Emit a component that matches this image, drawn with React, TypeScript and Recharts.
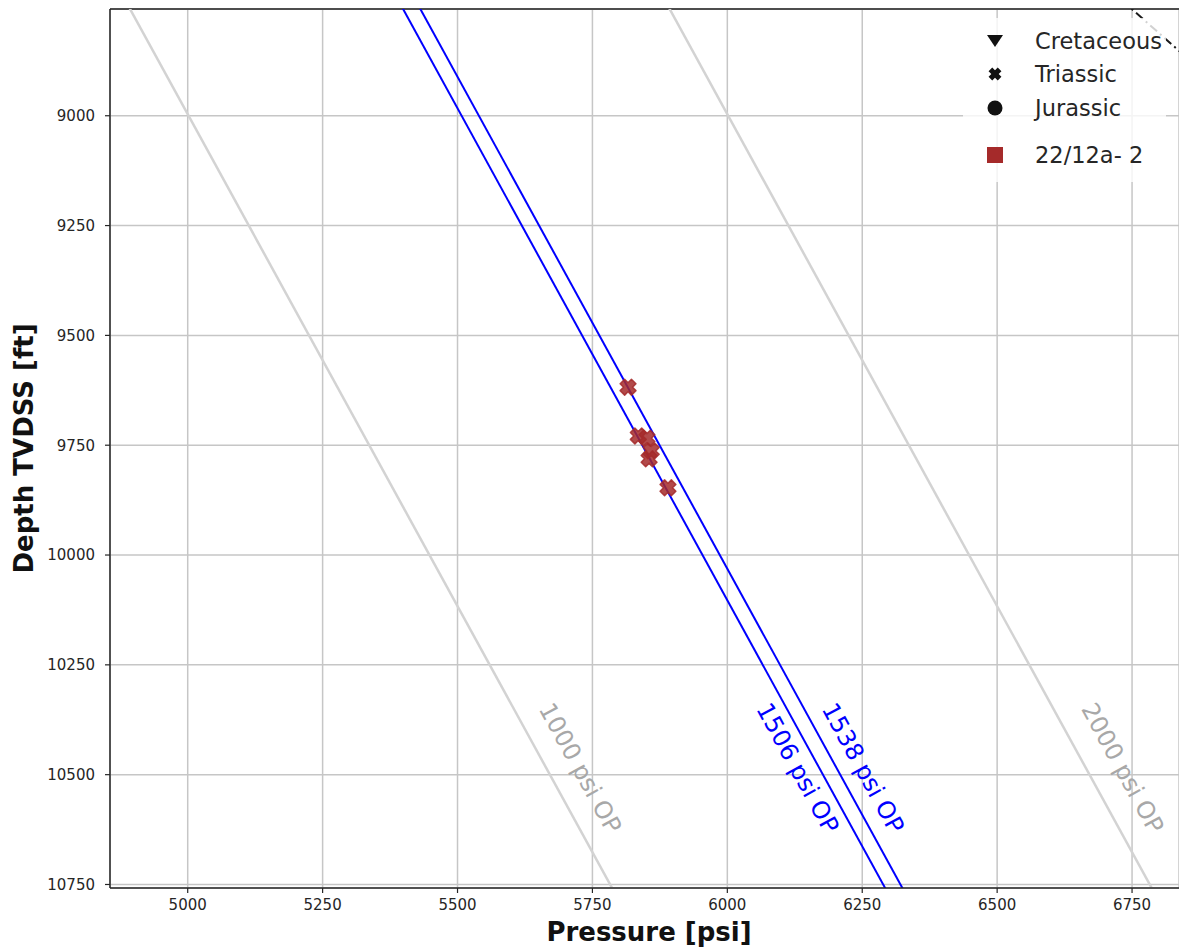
import {
  ScatterChart,
  Scatter,
  XAxis,
  YAxis,
  CartesianGrid,
  ReferenceLine,
  ReferenceDot,
  Legend,
  Label,
} from "recharts";

const FONT = "DejaVu Sans, sans-serif";

const CHART_W = 1179;
const CHART_H = 951;
const PLOT_LEFT = 110;
const PLOT_TOP = 9;
const PLOT_BOTTOM = 888;

const pressureDomain = [4856, 6837];
const depthDomain = [8757, 10758];
const pressureTicks = [5000, 5250, 5500, 5750, 6000, 6250, 6500, 6750];
const depthTicks = [9000, 9250, 9500, 9750, 10000, 10250, 10500, 10750];

// 22/12a-2 Triassic pressure points
const samplePressure = [5816, 5835, 5851, 5859, 5855, 5890];
const sampleDepth = [9618, 9729, 9734, 9763, 9781, 9847];

// hydrostatic trend, psi = gradient * depth + intercept
const HYDRO_GRADIENT = 0.4464;
const HYDRO_INTERCEPT = -16;

const overpressures = [1000, 1506, 1538, 2000];
const opLabels = ["1000 psi OP", "1506 psi OP", "1538 psi OP", "2000 psi OP"];
// label centres in data units (psi, ft)
const opLabelPressure = [5727, 6130, 6251, 6732];
const opLabelDepth = [10485, 10485, 10485, 10485];

// frac gradient line peeking in at the top right corner
const FRAC_GRADIENT = 0.92;
const FRAC_INTERCEPT = -1307;

const points = samplePressure.map((p, i) => ({ p, d: sampleDepth[i] }));

const hydro = (d: number) => HYDRO_GRADIENT * d + HYDRO_INTERCEPT;

const isRef = (op: number) => op === 1000 || op === 2000;
const opColor = (op: number) => (isRef(op) ? "#d3d3d3" : "#0000ff");
const opTextColor = (op: number) => (isRef(op) ? "#a8a8a8" : "#0000ff");

// text angle follows the OP lines on screen
const pxPerPsi = (CHART_W - PLOT_LEFT) / (pressureDomain[1] - pressureDomain[0]);
const pxPerFt = (PLOT_BOTTOM - PLOT_TOP) / (depthDomain[1] - depthDomain[0]);
const OP_ANGLE = (Math.atan2(pxPerFt, HYDRO_GRADIENT * pxPerPsi) * 180) / Math.PI;

function xMarkerPath(cx: number, cy: number, arm: number, half: number) {
  const pts = [
    [-half, -arm], [half, -arm], [half, -half], [arm, -half],
    [arm, half], [half, half], [half, arm], [-half, arm],
    [-half, half], [-arm, half], [-arm, -half], [-half, -half],
  ];
  const c = Math.SQRT1_2;
  return (
    pts
      .map(([x, y], i) => `${i ? "L" : "M"}${cx + (x - y) * c},${cy + (x + y) * c}`)
      .join("") + "Z"
  );
}

const BROWN = "#a52a2a";

function TriassicMarker(props: any) {
  const { cx, cy } = props;
  if (cx == null || cy == null) return null;
  return (
    <path
      d={xMarkerPath(cx, cy, 8, 3.2)}
      fill={BROWN}
      fillOpacity={0.85}
      stroke={BROWN}
      strokeOpacity={0.85}
      strokeWidth={1.5}
      strokeLinejoin="round"
    />
  );
}

const legendRows = [
  { name: "Cretaceous", top: 23 },
  { name: "Triassic", top: 56 },
  { name: "Jurassic", top: 90 },
  { name: "22/12a- 2", top: 137 },
];

function LegendIcon({ name }: { name: string }) {
  if (name === "Cretaceous")
    return <path d="M2,3 L18,3 L10,15 Z" fill="#111" />;
  if (name === "Triassic") return <path d={xMarkerPath(10, 9, 6.5, 2.6)} fill="#111" />;
  if (name === "Jurassic") return <circle cx={10} cy={9} r={7.5} fill="#111" />;
  return <rect x={2} y={1} width={16} height={16} fill={BROWN} />;
}

function LegendBox() {
  return (
    <div
      style={{
        position: "relative",
        width: 203,
        height: 164,
        background: "rgba(255,255,255,0.8)",
        fontFamily: FONT,
      }}
    >
      {legendRows.map((row) => (
        <div key={row.name}>
          <svg
            width={20}
            height={18}
            style={{ position: "absolute", left: 22, top: row.top - 9 }}
          >
            <LegendIcon name={row.name} />
          </svg>
          <span
            style={{
              position: "absolute",
              left: 72,
              top: row.top - 14,
              fontSize: 22.5,
              lineHeight: "28px",
              color: "#262626",
              whiteSpace: "nowrap",
            }}
          >
            {row.name}
          </span>
        </div>
      ))}
    </div>
  );
}

const tickStyle = { fontSize: 15, fill: "#262626", fontFamily: FONT };

export default function App() {
  const [d0, d1] = depthDomain;
  return (
    <div style={{ position: "absolute", left: 0, top: 0, fontFamily: FONT }}>
      <ScatterChart
        width={CHART_W}
        height={CHART_H}
        margin={{ top: PLOT_TOP, right: 0, bottom: 0, left: 0 }}
        style={{ fontFamily: FONT }}
      >
        <CartesianGrid stroke="#c6c6c6" strokeWidth={1.5} />
        <XAxis
          type="number"
          dataKey="p"
          domain={pressureDomain}
          ticks={pressureTicks}
          interval={0}
          allowDataOverflow
          height={CHART_H - PLOT_BOTTOM}
          tickSize={5}
          tickMargin={6}
          tick={tickStyle}
          axisLine={{ stroke: "#262626", strokeWidth: 1.5 }}
          tickLine={{ stroke: "#262626", strokeWidth: 1.2 }}
        >
          <Label
            content={() => (
              <text
                x={649}
                y={941}
                textAnchor="middle"
                style={{ fontSize: 26, fontWeight: "bold", fontFamily: FONT }}
                fill="#111"
              >
                Pressure [psi]
              </text>
            )}
          />
        </XAxis>
        <YAxis
          type="number"
          dataKey="d"
          domain={depthDomain}
          reversed
          ticks={depthTicks}
          interval={0}
          allowDataOverflow
          width={PLOT_LEFT}
          tickSize={5}
          tickMargin={10}
          tick={tickStyle}
          axisLine={{ stroke: "#262626", strokeWidth: 1.5 }}
          tickLine={{ stroke: "#262626", strokeWidth: 1.2 }}
        >
          <Label
            content={(props: any) => {
              const vb = props.viewBox || { y: PLOT_TOP, height: PLOT_BOTTOM - PLOT_TOP };
              const cy = vb.y + vb.height / 2;
              return (
                <text
                  x={33}
                  y={cy}
                  transform={`rotate(-90 33 ${cy})`}
                  textAnchor="middle"
                  style={{ fontSize: 26, fontWeight: "bold", fontFamily: FONT }}
                  fill="#111"
                >
                  Depth TVDSS [ft]
                </text>
              );
            }}
          />
        </YAxis>

        {/* top spine */}
        <ReferenceLine y={d0} stroke="#4d4d4d" strokeWidth={2} />

        {overpressures.map((op) => (
          <ReferenceLine
            key={op}
            segment={[
              { x: hydro(d0 - 50) + op, y: d0 - 50 },
              { x: hydro(d1 + 50) + op, y: d1 + 50 },
            ]}
            stroke={opColor(op)}
            strokeWidth={isRef(op) ? 2.5 : 2}
            ifOverflow="hidden"
          />
        ))}

        <ReferenceLine
          segment={[
            { x: FRAC_GRADIENT * (d0 - 20) + FRAC_INTERCEPT, y: d0 - 20 },
            { x: FRAC_GRADIENT * (d0 + 200) + FRAC_INTERCEPT, y: d0 + 200 },
          ]}
          stroke="#1a1a1a"
          strokeWidth={2}
          strokeDasharray="9 4 2 4"
          ifOverflow="hidden"
        />

        {overpressures.map((op, i) => (
          <ReferenceDot
            key={`lbl-${op}`}
            x={opLabelPressure[i]}
            y={opLabelDepth[i]}
            r={0}
            shape={(props: any) => (
              <text
                x={props.cx}
                y={props.cy}
                transform={`rotate(${OP_ANGLE} ${props.cx} ${props.cy})`}
                textAnchor="middle"
                dominantBaseline="central"
                style={{ fontSize: 24, fontFamily: FONT }}
                fill={opTextColor(op)}
              >
                {opLabels[i]}
              </text>
            )}
          />
        ))}

        <Scatter
          data={points}
          shape={<TriassicMarker />}
          isAnimationActive={false}
        />

        <Legend
          layout="vertical"
          align="center"
          verticalAlign="middle"
          content={() => <LegendBox />}
          wrapperStyle={{ left: 963, top: 18, width: 203, height: 164 }}
        />
      </ScatterChart>
    </div>
  );
}
